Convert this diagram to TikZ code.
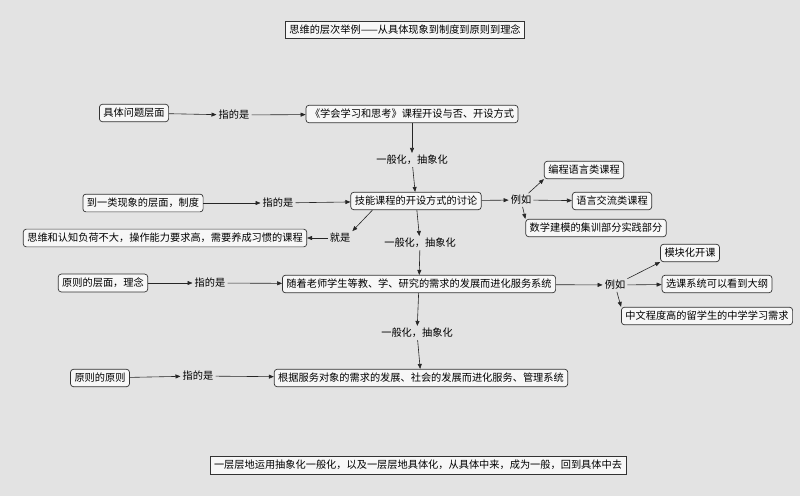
\documentclass[tikz,border=0pt]{standalone}
\usepackage{fontspec}
\setmainfont{Noto Sans CJK SC}
\usetikzlibrary{arrows.meta}
\begin{document}
\begin{tikzpicture}[x=1pt,y=-1pt,
  box/.style={draw=black!80,fill=black!3,rounded corners=3pt,inner sep=4pt,font=\fontsize{10.2}{12}\selectfont,line width=0.7pt},
  lbl/.style={inner sep=2pt,font=\fontsize{10.2}{12}\selectfont},
  arr/.style={-{Triangle[length=5pt,width=4pt]},line width=0.6pt,black!85}]
\fill[black!11] (0,0) rectangle (800,496);
\useasboundingbox (0,0) rectangle (800,496);
\node[box,rounded corners=0pt] (t) at (405,30) {思维的层次举例——从具体现象到制度到原则到理念};
\node[box] (a1) at (134,113) {具体问题层面};
\node[lbl] (z1) at (234,115) {指的是};
\node[box] (b1) at (412,114) {《学会学习和思考》课程开设与否、开设方式};
\node[lbl] (g1) at (412,160) {一般化，抽象化};
\node[box] (a2) at (143,203) {到一类现象的层面，制度};
\node[lbl] (z2) at (278,203) {指的是};
\node[box] (b2) at (416,201) {技能课程的开设方式的讨论};
\node[lbl] (e1) at (521,200) {例如};
\node[box] (c1) at (584,170) {编程语言类课程};
\node[box] (c2) at (612,201) {语言交流类课程};
\node[box] (c3) at (596,228) {数学建模的集训部分实践部分};
\node[box] (d1) at (165,238) {思维和认知负荷不大，操作能力要求高，需要养成习惯的课程};
\node[lbl] (j1) at (340,238) {就是};
\node[lbl] (g2) at (420,243) {一般化，抽象化};
\node[box] (a3) at (103,283) {原则的层面，理念};
\node[lbl] (z3) at (210,283) {指的是};
\node[box] (b3) at (419,284) {随着老师学生等教、学、研究的需求的发展而进化服务系统};
\node[lbl] (e2) at (615,285) {例如};
\node[box] (f1) at (690,253) {模块化开课};
\node[box] (f2) at (717,284) {选课系统可以看到大纲};
\node[box] (f3) at (707,316) {中文程度高的留学生的中学学习需求};
\node[lbl] (g3) at (417,333) {一般化，抽象化};
\node[box] (a4) at (100,378) {原则的原则};
\node[lbl] (z4) at (198,376) {指的是};
\node[box] (b4) at (421,378) {根据服务对象的需求的发展、社会的发展而进化服务、管理系统};
\node[box,rounded corners=0pt] (bt) at (418,465) {一层层地运用抽象化一般化，以及一层层地具体化，从具体中来，成为一般，回到具体中去};
\coordinate (s1) at ([xshift=22pt]b2.south west);
\draw[arr] (a1) -- (z1); \draw[arr] (z1) -- (b1);
\draw[arr] (b1) -- (g1); \draw[arr] (g1) -- (b2);
\draw[arr] (a2) -- (z2); \draw[arr] (z2) -- (b2);
\draw[arr] (b2) -- (e1);
\draw[arr] (e1) -- (c1.south west); \draw[arr] (e1) -- (c2); \draw[arr] (e1) -- (c3.north west);
\draw[arr] (s1) -- (j1.north east);
\draw[arr] (j1) -- (d1);
\draw[arr] (b2) -- (g2); \draw[arr] (g2) -- (b3);
\draw[arr] (a3) -- (z3); \draw[arr] (z3) -- (b3);
\draw[arr] (b3) -- (e2);
\draw[arr] (e2) -- (f1.south west); \draw[arr] (e2) -- (f2); \draw[arr] (e2) -- (f3.north west);
\draw[arr] (b3) -- (g3); \draw[arr] (g3) -- (b4);
\draw[arr] (a4) -- (z4); \draw[arr] (z4) -- (b4);
\end{tikzpicture}
\end{document}
